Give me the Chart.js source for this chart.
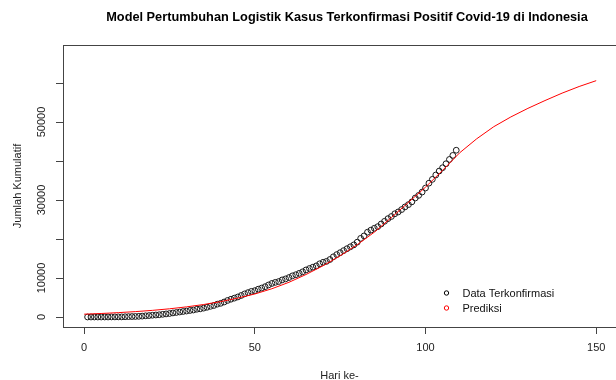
<!DOCTYPE html>
<html>
<head>
<meta charset="utf-8">
<script src="https://cdn.jsdelivr.net/npm/chart.js@4.4.1/dist/chart.umd.min.js"></script>
<style>
    body{margin:0;background:#fff;}
    #chart-covid{display:block;}
</style>
</head>
<body>
<canvas id="chart-covid" width="616" height="380"></canvas>
<script>
'use strict';
let confirmedCases = [2,2,2,2,4,4,6,19,27,34,34,69,96,117,134,172,227,311,369,450,
    514,579,686,790,893,1046,1155,1285,1414,1528,1677,1790,1986,2092,2273,2491,2738,2956,3293,3512,
    3842,4241,4557,4839,5136,5516,5923,6248,6575,6760,7135,7418,7775,8211,8607,8882,9096,9511,9771,10118,
    10551,10843,11192,11587,12071,12438,12776,13112,13645,14032,14265,14749,15438,16006,16496,17025,17514,18010,18496,19189,
    20162,20796,21745,22271,22750,23165,23851,24538,25216,25773,26473,26940,27549,28233,28818,29521,30514,31186,32033,33076,
    34316,35295,36406,37420,38277,39294,40400,41431,42762];
let confirmedDays = confirmedCases.map((v, i) => i + 1);

let predictionDays = [0,5,10,15,20,25,30,35,40,45,50,55,60,65,70,75,80,85,90,95,100,105,110,115,120,125,130,135,140,145,150];
let predictionValues = [720,900,1120,1380,1700,2100,2600,3200,3950,4850,5900,7250,8900,10900,13150,15700,18550,21750,25500,29400,
    33300,37600,42100,45700,48800,51300,53500,55500,57400,59100,60600];

let xTicks = [0, 50, 100, 150];
let yTicks = [0, 10000, 20000, 30000, 40000, 50000, 60000];
let yLabeled = [0, 10000, 30000, 50000];
let legendItems = [
    {text:'Data Terkonfirmasi', color:'#000000'},
    {text:'Prediksi', color:'#ff0000'},
];
let mainTitle = 'Model Pertumbuhan Logistik Kasus Terkonfirmasi Positif Covid-19 di Indonesia';

const FONT = 'Arial, "Liberation Sans", sans-serif';
const AXIS = '#444444';

let boxPlugin = {
    id: 'rbox',
    afterDraw(chart){
        let c = chart.ctx;
        let a = chart.chartArea;
        c.save();
        c.strokeStyle = AXIS;
        c.lineWidth = 1;
        c.strokeRect(Math.round(a.left) + 0.5, Math.round(a.top) + 0.5, Math.round(a.right - a.left), Math.round(a.bottom - a.top));

        // main title (R centres it on a wider plot region than what is visible)
        c.fillStyle = '#000';
        c.font = 'bold 12.75px ' + FONT;
        c.textAlign = 'center';
        c.textBaseline = 'middle';
        c.fillText(mainTitle, 347, 17);

        // legend, no frame
        c.font = '11px ' + FONT;
        c.textAlign = 'left';
        legendItems.forEach((item, i) => {
            let y = 293 + i * 15;
            c.beginPath();
            c.arc(446.5, y, 2.2, 0, Math.PI * 2);
            c.strokeStyle = item.color;
            c.stroke();
            c.fillStyle = '#111';
            c.fillText(item.text, 462.5, y + 0.5);
        });
        c.restore();
    }
};

new Chart(document.getElementById('chart-covid'), {
    type: 'scatter',
    data: {
        datasets: [{
            label: 'Prediksi',
            type: 'line',
            data: predictionDays.map((d, i) => ({x: d, y: predictionValues[i]})),
            borderColor: '#ff0000',
            borderWidth: 1,
            pointRadius: 0,
            tension: 0,
            fill: false
        }, {
            label: 'Data Terkonfirmasi',
            data: confirmedDays.map((d, i) => ({x: d, y: confirmedCases[i]})),
            borderColor: '#1a1a1a',
            backgroundColor: 'rgba(0,0,0,0)',
            borderWidth: 1,
            pointRadius: 2.9,
            pointHoverRadius: 2.9
        }]
    },
    options: {
        responsive: false,
        animation: false,
        devicePixelRatio: 1,
        layout: {autoPadding: false, padding: {top: 45, left: 0, right: 0, bottom: 0}},
        plugins: {
            legend: {display: false},
            tooltip: {enabled: false},
            title: {display: false}
        },
        scales: {
            x: {
                type: 'linear',
                min: -6.2,
                max: 155.8,
                afterBuildTicks: scale => { scale.ticks = xTicks.map(v => ({value: v})); },
                afterFit: scale => { scale.height = 53; scale.paddingLeft = 0; scale.paddingRight = 0; },
                border: {display: false},
                grid: {drawOnChartArea: false, drawTicks: true, tickLength: 7, tickColor: AXIS},
                ticks: {padding: 7, color: '#222', maxRotation: 0, font: {family: FONT, size: 11}},
                title: {display: true, text: 'Hari ke-', color: '#222', padding: 0,
                    font: {family: FONT, size: 11, lineHeight: 0.7}}
            },
            y: {
                type: 'linear',
                min: -2564,
                max: 69744,
                afterBuildTicks: scale => { scale.ticks = yTicks.map(v => ({value: v})); },
                afterFit: scale => { scale.width = 63; scale.paddingTop = 0; scale.paddingBottom = 0; },
                border: {display: false},
                grid: {drawOnChartArea: false, drawTicks: true, tickLength: 7, tickColor: AXIS},
                ticks: {
                    autoSkip: false,
                    minRotation: 90, maxRotation: 90, crossAlign: 'center', padding: -1.5,
                    color: '#222', font: {family: FONT, size: 11},
                    callback: v => yLabeled.includes(v) ? String(v) : ''
                },
                title: {display: true, text: 'Jumlah Kumulatif', color: '#222', padding: {top: 11, bottom: 0},
                    font: {family: FONT, size: 11, lineHeight: 1.2}}
            }
        }
    },
    plugins: [boxPlugin]
});
</script>
</body>
</html>
